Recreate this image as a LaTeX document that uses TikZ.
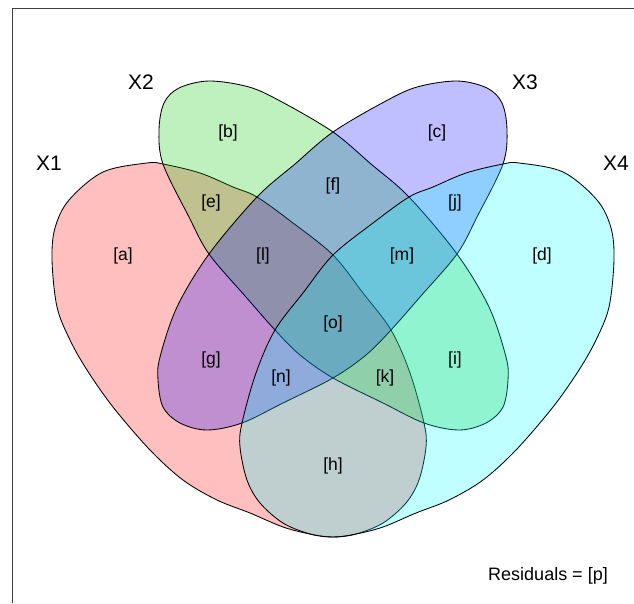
\documentclass[tikz,border=0pt]{standalone}
\usepackage{fontspec}
\setmainfont{Liberation Sans}
\definecolor{setred}{RGB}{255,0,0}
\definecolor{setgreen}{RGB}{0,200,0}
\definecolor{setblue}{RGB}{0,0,255}
\definecolor{setcyan}{RGB}{0,255,255}
\begin{document}
\begin{tikzpicture}[x=1pt,y=-1pt,
  setshape/.style={draw=black, line width=0.85pt, fill opacity=0.25, draw opacity=1},
  zonelabel/.style={font=\fontsize{17.5}{20}\selectfont, inner sep=0pt},
  setlabel/.style={font=\fontsize{21}{24}\selectfont, inner sep=0pt},
  frameline/.style={draw=black!75, line width=1pt}]
\useasboundingbox (0,0) rectangle (634,603);
\fill[white] (0,0) rectangle (634,603);

% plot frame (only the top and left edges fall inside the page)
\coordinate (frameTL) at (12.5,8);
\coordinate (frameTR) at (634,8);
\coordinate (frameBL) at (12.5,603);
\draw[frameline] (frameTR) -- (frameTL) -- (frameBL);

% X1 (red)
\draw[setshape, fill=setred] plot[smooth cycle, tension=0.55] coordinates {
 (147,163) (163,164) (200,173) (233,187) (257,197) (293,223) (333,255)
 (363,293) (391,330) (410,373) (424,423) (426,447) (419,480) (406,503)
 (383,523) (356,534) (333,537) (310,534) (283,527) (250,513) (217,500)
 (183,480) (150,450) (113,407) (87,370) (70,340) (57,307) (52,260)
 (55,228) (69,200) (103,172)};

% X2 (green)
\draw[setshape, fill=setgreen] plot[smooth cycle, tension=0.55] coordinates {
 (209,81) (179,88) (164,103) (159,130) (163,164) (189,217) (209,254)
 (246,297) (275,330) (300,355) (333,378) (383,403) (424,423) (459,430)
 (486,423) (503,407) (508,380) (506,357) (489,307) (457,254) (409,197)
 (371,164) (333,132) (282,102) (249,87)};

% X3 (blue)
\draw[setshape, fill=setblue] plot[smooth cycle, tension=0.55] coordinates {
 (457,81) (487,88) (502,103) (507,130) (503,164) (477,217) (457,254)
 (420,297) (391,330) (366,355) (333,378) (283,403) (242,423) (207,430)
 (180,423) (163,407) (158,380) (160,357) (177,307) (209,254) (257,197)
 (295,164) (333,132) (384,102) (417,87)};

% X4 (cyan)
\draw[setshape, fill=setcyan] plot[smooth cycle, tension=0.55] coordinates {
 (519,163) (503,164) (466,173) (433,187) (409,197) (373,223) (333,255)
 (303,293) (275,330) (256,373) (242,423) (240,447) (247,480) (260,503)
 (283,523) (310,534) (333,537) (356,534) (383,527) (416,513) (449,500)
 (483,480) (516,450) (553,407) (579,370) (596,340) (609,307) (614,260)
 (611,228) (597,200) (563,172)};

% set names
\node[setlabel] (nX1) at (49,163) {X1};
\node[setlabel] (nX2) at (141,82) {X2};
\node[setlabel] (nX3) at (525,82) {X3};
\node[setlabel] (nX4) at (616,163) {X4};

% zone labels
\node[zonelabel] (za) at (123,256) {[a]};
\node[zonelabel] (zb) at (228,133) {[b]};
\node[zonelabel] (zc) at (437,133) {[c]};
\node[zonelabel] (zd) at (542,256) {[d]};
\node[zonelabel] (ze) at (211,203) {[e]};
\node[zonelabel] (zf) at (333,186) {[f]};
\node[zonelabel] (zj) at (455,203) {[j]};
\node[zonelabel] (zl) at (263,256) {[l]};
\node[zonelabel] (zm) at (402,256) {[m]};
\node[zonelabel] (zo) at (333,324) {[o]};
\node[zonelabel] (zg) at (211,360) {[g]};
\node[zonelabel] (zn) at (281,378) {[n]};
\node[zonelabel] (zk) at (385,378) {[k]};
\node[zonelabel] (zi) at (455,360) {[i]};
\node[zonelabel] (zh) at (333,466) {[h]};

\node[zonelabel, font=\fontsize{18}{20}\selectfont, anchor=east] (resid) at (608,576) {Residuals = [p]};
\end{tikzpicture}
\end{document}
